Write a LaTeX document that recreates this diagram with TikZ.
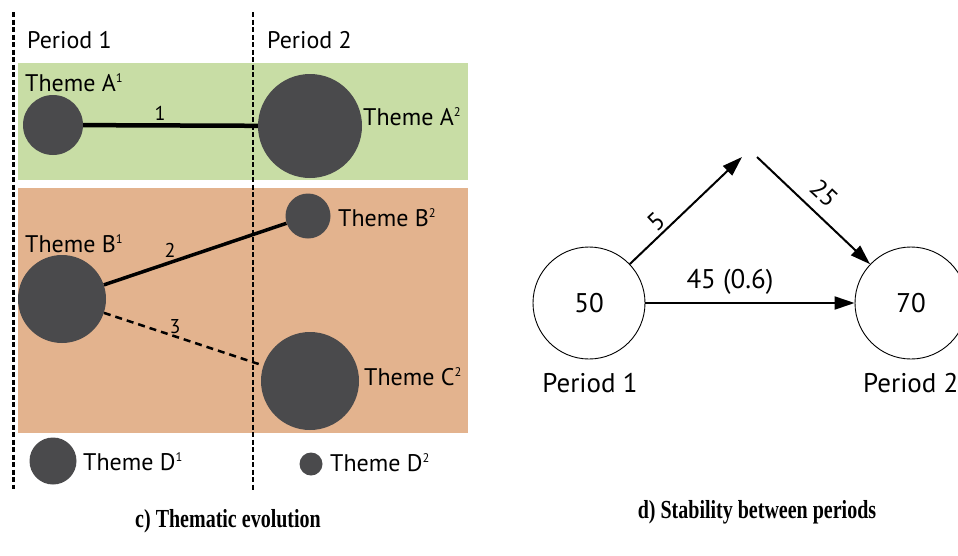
\documentclass[tikz,border=0pt]{standalone}
\usepackage{fontspec}
\setmainfont{PT Sans}
\newfontfamily\capfont{Liberation Serif}
\usetikzlibrary{arrows.meta}
\definecolor{bandgreen}{HTML}{C8DDA5}
\definecolor{bandorange}{HTML}{E3B38E}
\definecolor{themegray}{HTML}{4A4A4C}
% small raised index after a theme letter
\newcommand{\thsup}[1]{\raisebox{8.2pt}{\fontsize{12.5}{12.5}\selectfont #1}}
\begin{document}
\begin{tikzpicture}[x=1pt,y=-1pt,
  topic/.style={circle,fill=themegray,inner sep=0pt,minimum size=#1},
  lbl/.style={font=\fontsize{24}{28}\selectfont,inner sep=0pt,anchor=base west},
  biglbl/.style={font=\fontsize{27}{30}\selectfont,inner sep=0pt,anchor=base west},
  edgelbl/.style={font=\fontsize{20}{24}\selectfont,inner sep=0pt},
  flowlbl/.style={font=\fontsize{25}{28}\selectfont,inner sep=0pt},
  periodline/.style={line width=#1,dash pattern=on 5pt off 2.5pt},
  link/.style={line width=#1},
  countnode/.style={circle,draw,line width=0.9pt,minimum size=112pt,inner sep=0pt,
    font=\fontsize{27}{30}\selectfont},
  flow/.style={line width=2pt,-{Triangle[length=20pt,width=13pt]}},
  caption/.style={font=\capfont\bfseries\fontsize{20}{22}\selectfont,inner sep=0pt,yscale=1.3},
]
\useasboundingbox (0,0) rectangle (958,555);

% coloured theme bands
\fill[bandgreen] (18,63) rectangle (468,180);
\fill[bandorange] (18,188) rectangle (468,433);

% period separators
\draw[periodline=3pt] (13,12) -- (13,489);
\draw[periodline=2pt] (253,12) -- (253,491);

\node[lbl] (p1) at (27,48) {Period 1};
\node[lbl] (p2) at (267,48) {Period 2};

% themes
\node[topic=60pt] (A1) at (53,125) {};
\node[topic=104pt] (A2) at (310,126) {};
\node[topic=45pt] (B2) at (308,216) {};
\node[topic=88pt] (B1) at (62,299) {};
\node[topic=98pt] (C2) at (310,381) {};
\node[topic=47pt] (D1) at (53,461) {};
\node[topic=23pt] (D2) at (311,464) {};

\node[lbl] (tA1) at (25,91) {Theme A\thsup{1}};
\node[lbl] (tA2) at (363,125) {Theme A\thsup{2}};
\node[lbl] (tB1) at (25,252) {Theme B\thsup{1}};
\node[lbl] (tB2) at (338,226) {Theme B\thsup{2}};
\node[lbl] (tC2) at (364,385) {Theme C\thsup{2}};
\node[lbl] (tD1) at (83,470) {Theme D\thsup{1}};
\node[lbl] (tD2) at (330,471) {Theme D\thsup{2}};

% links between periods
\draw[link=4.5pt] (A1) -- (A2);
\draw[link=3.5pt] (B1) -- (B2);
\draw[link=2.5pt,dash pattern=on 7pt off 5pt] (B1) -- (C2);
\node[edgelbl] (l1) at (160,113) {1};
\node[edgelbl] (l2) at (170,250) {2};
\node[edgelbl] (l3) at (175,327) {3};

% stability between periods
\node[countnode] (N50) at (589,303) {50};
\node[countnode] (N70) at (911,303) {70};
\coordinate (top5) at (742,157);
\coordinate (top25) at (757,157);
\draw[flow] (N50) -- (top5);
\draw[flow] (top25) -- (N70);
\draw[flow] (N50) -- (N70);
\node[flowlbl,font=\fontsize{27}{30}\selectfont] (l45) at (730,282) {45 (0.6)};
\node[flowlbl,rotate=43] (l5) at (656,222) {5};
\node[flowlbl,rotate=-43] (l25) at (824,193) {25};
\node[biglbl,anchor=base] (q1) at (590,392) {Period 1};
\node[biglbl] (q2) at (863,392) {Period 2};

% captions
\node[caption] (capc) at (228,521) {c) Thematic evolution};
\node[caption] (capd) at (757,512) {d) Stability between periods};
\end{tikzpicture}
\end{document}
